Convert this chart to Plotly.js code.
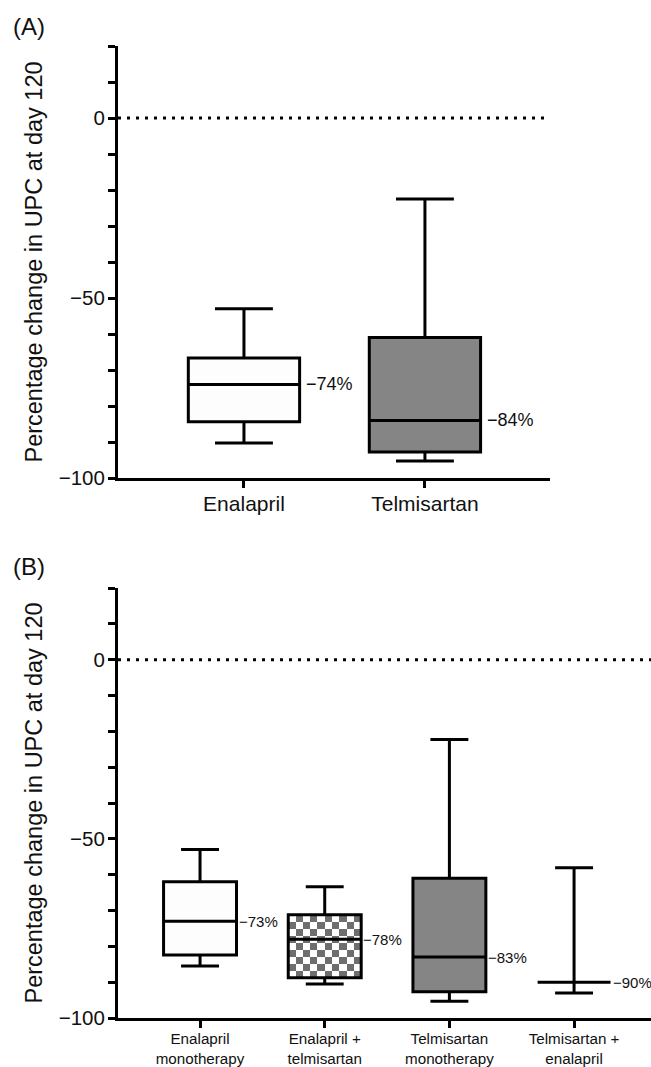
<!DOCTYPE html>
<html><head><meta charset="utf-8">
<script src="https://cdn.plot.ly/plotly-3.0.1.min.js"></script>
<style>body{margin:0;background:#fff}#chart{width:651px;height:1067px}</style>
</head><body><div id="chart"></div>
<script>
// ---- Panel A data ----
const catsA = ['Enalapril', 'Telmisartan'];
const upperA = [-53, -22.5];
const q3A = [-66.7, -61];
const medA = [-74, -84];
const q1A = [-84.4, -92.8];
const lowerA = [-90.3, -95.3];
const labelsA = ['−74%', '−84%'];

// ---- Panel B data ----
const catsB = ['Enalapril<br>monotherapy', 'Enalapril +<br>telmisartan', 'Telmisartan<br>monotherapy', 'Telmisartan +<br>enalapril'];
const upperB = [-53, -63.4, -22.3, -58.1];
const q3B = [-62, -71.2, -61, -90];
const medB = [-73, -78, -83, -90];
const q1B = [-82.4, -88.8, -92.7, -90];
const lowerB = [-85.5, -90.5, -95.3, -93];
const labelsB = ['−73%', '−78%', '−83%', '−90%'];

// y ticks
const yTickVals = [-100, -90, -80, -70, -60, -50, -40, -30, -20, -10, 0, 10, 20];
const yTickText = ['−100', '', '', '', '', '−50', '', '', '', '', '0', '', ''];

// styles
const fillsA = ['#fdfdfd', '#858585'];
const fillsB = ['#fdfdfd', 'checker', '#858585', '#fdfdfd'];
const boxWA = 0.615, boxWB = 0.585;
const LW = 3;
const FONT = 'Liberation Sans, Arial, sans-serif';
const TXT = '#111';
const checkerCols = 10, checkerRows = 9;

const traces = [];
function addBoxes(q1, med, q3, lo, hi, fills, w, xa, ya) {
  q1.forEach((_, i) => {
    if (fills[i] === 'checker') {
      const dx = w / checkerCols, dy = (q3[i] - q1[i]) / checkerRows;
      const z = [];
      for (let r = 0; r < checkerRows; r++) {
        const row = [];
        for (let c = 0; c < checkerCols; c++) row.push((r + c) % 2);
        z.push(row);
      }
      traces.push({
        type: 'heatmap', z: z, x0: i - w / 2 + dx / 2, dx: dx, y0: q1[i] + dy / 2, dy: dy,
        colorscale: [[0, '#ffffff'], [1, '#6e6e6e']], showscale: false, hoverinfo: 'skip',
        xaxis: xa, yaxis: ya, zsmooth: false
      });
    }
    traces.push({
      type: 'box', x: [i], q1: [q1[i]], median: [med[i]], q3: [q3[i]],
      lowerfence: [lo[i]], upperfence: [hi[i]], width: w, whiskerwidth: 0.52,
      fillcolor: fills[i] === 'checker' ? 'rgba(0,0,0,0)' : fills[i],
      line: { color: '#000', width: LW }, boxpoints: false,
      xaxis: xa, yaxis: ya, showlegend: false, hoverinfo: 'skip'
    });
  });
}
addBoxes(q1A, medA, q3A, lowerA, upperA, fillsA, boxWA, 'x', 'y');
addBoxes(q1B, medB, q3B, lowerB, upperB, fillsB, boxWB, 'x2', 'y2');

const annotations = [];
labelsA.forEach((t, i) => annotations.push({
  x: i + boxWA / 2, y: medA[i], xref: 'x', yref: 'y', text: t, showarrow: false,
  xanchor: 'left', yanchor: 'middle', xshift: 4, font: { family: FONT, size: 18, color: TXT }
}));
labelsB.forEach((t, i) => annotations.push({
  x: i + boxWB / 2, y: medB[i], xref: 'x2', yref: 'y2', text: t, showarrow: false,
  xanchor: 'left', yanchor: 'middle', xshift: 1, borderpad: 0, font: { family: FONT, size: 15, color: TXT }
}));
annotations.push({ x: 11 / 651, y: 1 - 27 / 1067, xref: 'paper', yref: 'paper', text: '(A)', showarrow: false,
  xanchor: 'left', yanchor: 'middle', font: { family: FONT, size: 24, color: TXT } });
annotations.push({ x: 11 / 651, y: 1 - 566 / 1067, xref: 'paper', yref: 'paper', text: '(B)', showarrow: false,
  xanchor: 'left', yanchor: 'middle', font: { family: FONT, size: 24, color: TXT } });

const yCommon = {
  range: [-100, 20], tickmode: 'array', tickvals: yTickVals, ticktext: yTickText,
  ticks: 'outside', ticklen: 7, tickwidth: LW, tickcolor: '#000', ticklabelstandoff: -1,
  showline: true, linewidth: LW, linecolor: '#000', showgrid: false, zeroline: false,
  tickfont: { family: FONT, size: 20.5, color: TXT },
  title: { text: 'Percentage change in UPC at day 120', font: { family: FONT, size: 23.5, color: TXT }, standoff: 10 }
};
const xCommon = {
  tickmode: 'array', ticks: 'outside', ticklen: 7, tickwidth: LW, tickcolor: '#000',
  showline: true, linewidth: LW, linecolor: '#000', showgrid: false, zeroline: false
};

const layout = {
  width: 651, height: 1067, margin: { l: 0, r: 0, t: 0, b: 0 },
  paper_bgcolor: '#fff', plot_bgcolor: '#fff', showlegend: false, boxmode: 'overlay',
  xaxis: Object.assign({}, xCommon, { domain: [118 / 651, 550 / 651], range: [-0.696, 1.691],
    tickvals: [0, 1], ticktext: catsA, anchor: 'y', ticklabelstandoff: -2,
    tickfont: { family: FONT, size: 21, color: TXT } }),
  yaxis: Object.assign({}, yCommon, { domain: [1 - 478 / 1067, 1 - 46 / 1067], anchor: 'x' }),
  xaxis2: Object.assign({}, xCommon, { domain: [118 / 651, 1], range: [-0.658, 3.617],
    tickvals: [0, 1, 2, 3], ticktext: catsB, anchor: 'y2', ticklabelstandoff: -2,
    tickfont: { family: FONT, size: 15.2, color: TXT } }),
  yaxis2: Object.assign({}, yCommon, { domain: [1 - 1018 / 1067, 1 - 588 / 1067], anchor: 'x2' }),
  shapes: [
    { type: 'line', xref: 'x domain', yref: 'y', x0: 0, x1: 1, y0: 0, y1: 0, line: { color: '#000', width: 3, dash: '3px,6px' } },
    { type: 'line', xref: 'x2 domain', yref: 'y2', x0: 0, x1: 1, y0: 0, y1: 0, line: { color: '#000', width: 3, dash: '3px,6px' } }
  ],
  annotations: annotations
};

Plotly.newPlot('chart', traces, layout, { displayModeBar: false, staticPlot: true });
</script>
</body></html>
